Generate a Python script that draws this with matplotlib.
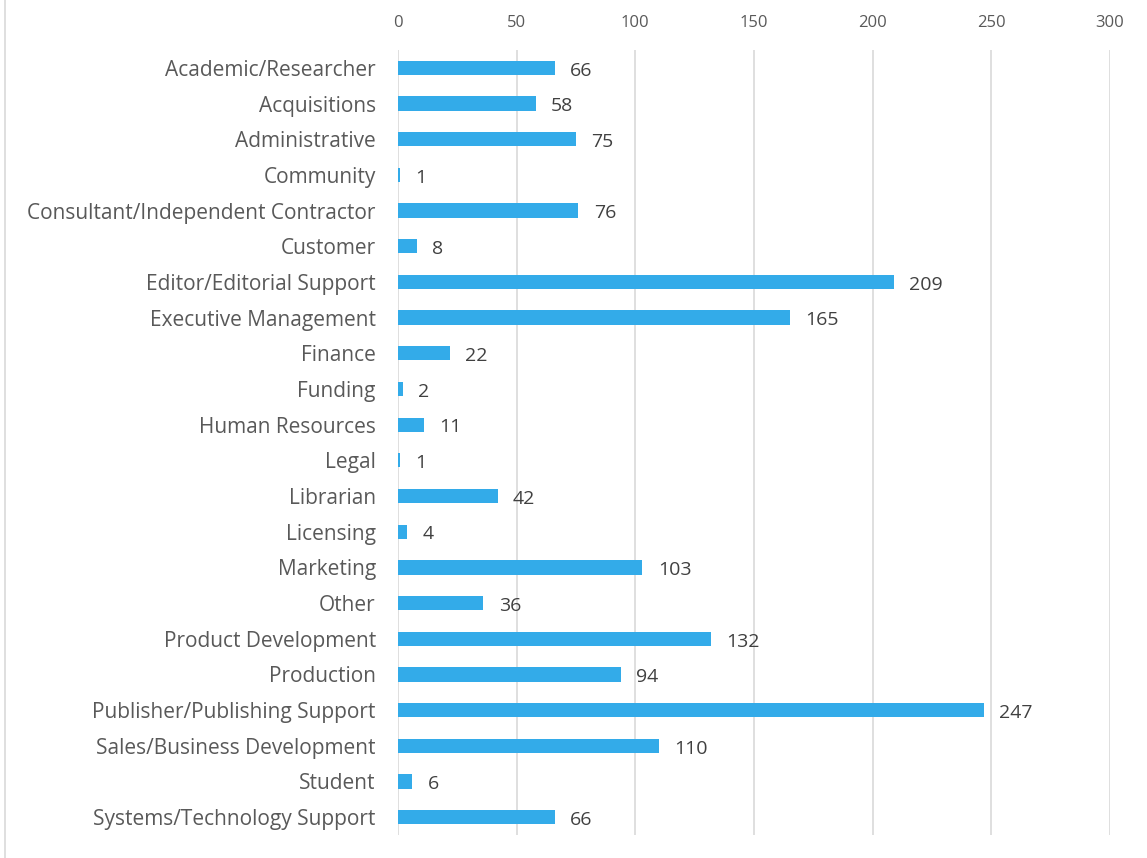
import matplotlib
matplotlib.use("Agg")
import matplotlib.pyplot as plt
from matplotlib.lines import Line2D

categories = [
    "Academic/Researcher", "Acquisitions", "Administrative", "Community",
    "Consultant/Independent Contractor", "Customer", "Editor/Editorial Support",
    "Executive Management", "Finance", "Funding", "Human Resources", "Legal",
    "Librarian", "Licensing", "Marketing", "Other", "Product Development",
    "Production", "Publisher/Publishing Support", "Sales/Business Development",
    "Student", "Systems/Technology Support",
]
values = [66, 58, 75, 1, 76, 8, 209, 165, 22, 2, 11, 1, 42, 4, 103, 36, 132, 94, 247, 110, 6, 66]
x_ticks = [0, 50, 100, 150, 200, 250, 300]

plt.rcParams['font.family'] = ['Open Sans', 'DejaVu Sans']

fig = plt.figure(figsize=(11.47, 8.58), dpi=100)
ax = fig.add_axes([398/1147, 1-835/858, (1110-398)/1147, (835-50)/858])

ypos = list(range(len(categories)))
ax.barh(ypos, values, height=0.4, color="#33ABE9", zorder=3)

ax.set_xlim(0, 300)
ax.set_ylim(len(categories)-0.5, -0.5)
ax.set_xticks(x_ticks)
ax.set_xticklabels([str(t) for t in x_ticks])
ax.xaxis.tick_top()
ax.tick_params(axis='x', length=0, pad=14, labelsize=12, labelcolor="#595959")
ax.set_yticks(ypos)
ax.set_yticklabels(categories)
ax.tick_params(axis='y', length=0, pad=16, labelsize=15, labelcolor="#595959")
ax.grid(axis='x', color="#d9d9d9", linewidth=1.2, zorder=0)
for s in ax.spines.values():
    s.set_visible(False)

for y, v in zip(ypos, values):
    ax.annotate(str(v), (v, y), xytext=(11, -2), textcoords="offset points",
                ha="left", va="center", fontsize=14, color="#404040")

fig.add_artist(Line2D([5/1147, 5/1147], [0, 1], transform=fig.transFigure,
                      color="#d9d9d9", linewidth=1.2))

fig.savefig("out.png", dpi=100)
